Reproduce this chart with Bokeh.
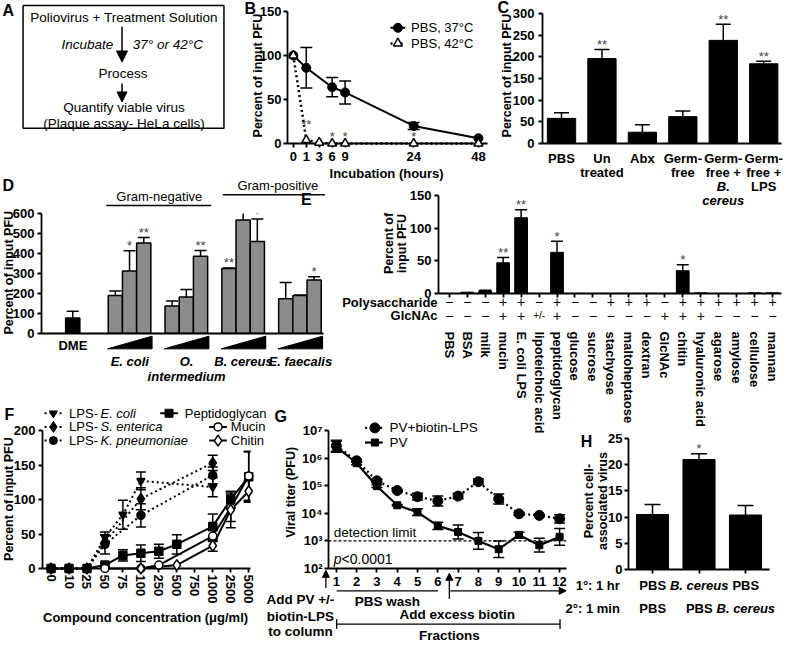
import math
from bokeh.plotting import figure
from bokeh.models import (Range1d, FixedTicker, Label, Arrow, NormalHead, TeeHead,
                          Whisker, ColumnDataSource, GridBox, Span)
from bokeh.embed import file_html
from bokeh.resources import INLINE

W, H = 784, 645
SX, SY = W / 800.0, H / 661.0
FONT = "Liberation Sans"

# ---------------- data ----------------
a_steps = ["Poliovirus + Treatment Solution", "Process", "Quantify viable virus", "(Plaque assay- HeLa cells)"]

# panel B: the time axis is drawn with uneven spacing (as in the original axis)
b_hour_ticks = [0, 1, 3, 6, 9, 24, 48]
b_hour_axis_pos = [0, 1, 2, 3, 4, 9.3, 14.3]
b_hours_37 = [0, 1, 6, 9, 24, 48]
b_pct_37 = [100, 86, 64, 58, 20, 6]
b_sem_37 = [0, 23, 11, 13, 4, 0]
b_hours_42 = [0, 1, 3, 6, 9, 24, 48]
b_pct_42 = [100, 4, 1, 0, 0, 0, 0]
b_star_hours = [1, 6, 9, 24]
b_star_marks = ["**", "*", "*", "*"]

c_label_lines = [["PBS"], ["Un", "treated"], ["Abx"], ["Germ-", "free"],
                 ["Germ-", "free +", "B.", "cereus"], ["Germ-", "free +", "LPS"]]
c_italic_lines = [[], [], [], [], [2, 3], []]
c_pct = [58, 196, 26, 62, 238, 184]
c_sem = [13, 21, 17, 13, 37, 6]
c_marks = ["", "**", "", "", "**", "**"]

d_dme = [77]
d_dme_sem = [34]
d_species = [["E. coli"], ["O.", "intermedium"], ["B. cereus"], ["E. faecalis"]]
d_pct = [[190, 313, 453], [137, 183, 386], [325, 567, 460], [174, 190, 268]]
d_sem = [[22, 101, 27], [26, 37, 29], [3, 57, 112], [81, 2, 16]]
d_marks = [["", "*", "**"], ["", "", "**"], ["**", "**", "*"], ["", "", "*"]]

e_compounds = ["PBS", "BSA", "milk", "mucin", "E. coli LPS", "lipoteichoic acid", "peptidoglycan",
               "glucose", "sucrose", "stachyose", "maltoheptaose", "dextran", "GlcNAc", "chitin",
               "hyaluronic acid", "agarose", "amylose", "cellulose", "mannan"]
e_pct = [0, 2, 4, 47, 116, 0, 63, 0, 0, 0, 0, 0, 0, 35, 1, 0, 0, 1, 1]
e_sem = [0, 0, 1, 8, 12, 0, 17, 0, 0, 0, 0, 0, 0, 9, 0, 0, 0, 0, 0]
e_marks = ["", "", "", "**", "**", "", "*", "", "", "", "", "", "", "*", "", "", "", "", ""]
e_poly = ["−", "−", "−", "+", "+", "−", "+", "−", "−", "+", "+", "+", "−", "+", "+", "+", "+", "+", "+"]
e_glcnac = ["−", "−", "−", "+", "+", "+/-", "+", "−", "−", "−", "−", "−", "+", "+", "+", "−", "−", "−", "−"]

f_conc = ["0", "10", "25", "50", "75", "100", "250", "500", "750", "1000", "2500", "5000"]
f_ecoli_idx = [0, 1, 2, 3, 4, 5, 9]
f_ecoli = [0, 0, 0, 45, 78, 127, 118]
f_ecoli_sem = [0, 0, 0, 8, 21, 13, 14]
f_sent_idx = [0, 1, 2, 3, 5, 9]
f_sent = [0, 0, 0, 38, 101, 153]
f_sent_sem = [0, 0, 0, 0, 16, 11]
f_kpn_idx = [0, 1, 2, 3, 5, 9]
f_kpn = [0, 0, 0, 35, 77, 135]
f_kpn_sem = [0, 0, 0, 14, 17, 12]
f_pep_idx = [0, 1, 2, 3, 4, 5, 6, 7, 9, 10, 11]
f_pep = [0, 0, 0, 5, 19, 22, 25, 35, 61, 100, 133]
f_pep_sem = [0, 0, 0, 2, 8, 12, 10, 14, 18, 12, 37]
f_muc_idx = [3, 5, 6, 9, 10, 11]
f_muc = [0, 0, 5, 47, 88, 134]
f_muc_sem = [0, 0, 0, 8, 20, 35]
f_chi_idx = [5, 7, 9, 10, 11]
f_chi = [0, 5, 33, 85, 112]
f_chi_sem = [0, 0, 8, 26, 15]

g_frac = [1, 2, 3, 4, 5, 6, 7, 8, 9, 10, 11, 12]
g_lps = [2.8e6, 8e5, 1.5e5, 6.7e4, 4e4, 2.8e4, 4.2e4, 1.4e5, 3.3e4, 9.6e3, 8.4e3, 6.3e3]
g_lps_err = [0.2, 0.05, 0.06, 0.03, 0.12, 0.18, 0.1, 0.1, 0.18, 0.05, 0.03, 0.15]
g_pv = [2.6e6, 6.5e5, 9.6e4, 1.95e4, 1.1e4, 3.5e3, 2.1e3, 1.0e3, 5e2, 1.65e3, 7e2, 1.4e3]
g_pv_err = [0.2, 0.05, 0.05, 0.03, 0.12, 0.13, 0.25, 0.3, 0.3, 0.1, 0.25, 0.3]
g_detection_limit = 1e3
g_decades = [1e2, 1e3, 1e4, 1e5, 1e6, 1e7]
g_decade_labels = ["10²", "10³", "10⁴", "10⁵", "10⁶", "10⁷"]

h_primary = ["PBS", "B. cereus", "PBS"]
h_secondary = ["PBS", "PBS", "B. cereus"]
h_pct = [10.5, 21, 10.4]
h_sem = [1.9, 1.1, 1.8]
h_marks = ["", "*", ""]


# ---------------- helpers ----------------
def lin(v, d0, d1, r0, r1):
    return r0 + (v - d0) * (r1 - r0) / (d1 - d0)


def style_axis(ax):
    ax.axis_line_width = 1.8
    ax.axis_line_color = "black"
    ax.major_tick_line_width = 1.8
    ax.major_tick_line_color = "black"
    ax.major_tick_in = 0
    ax.major_tick_out = 4
    ax.minor_tick_line_color = None
    ax.major_label_text_font = FONT
    ax.major_label_text_font_style = "bold"
    ax.major_label_text_font_size = "13px"
    ax.major_label_text_color = "black"
    ax.major_label_standoff = 3


def finish(p):
    p.border_fill_color = None
    p.background_fill_color = None
    p.outline_line_color = None
    p.xgrid.visible = False
    p.ygrid.visible = False
    p.frame_align = False
    return p


def make_panel(frame, xr, yr, y_log=False):
    fx0, fy0, fx1, fy1 = frame
    left = int(round(fx0 * SX))
    right = W - int(round(fx1 * SX))
    top = int(round(fy0 * SY))
    bottom = H - int(round(fy1 * SY))
    kw = {}
    if y_log:
        kw["y_axis_type"] = "log"
    p = figure(width=W, height=H, x_range=Range1d(*xr), y_range=Range1d(*yr),
               output_backend="svg", toolbar_location=None, title=None,
               min_border_left=left, min_border_right=right,
               min_border_top=top, min_border_bottom=bottom, **kw)
    finish(p)
    for ax in p.xaxis + p.yaxis:
        style_axis(ax)
    return p


def errbars(p, xs, lo, hi, width=10, lower=True, lw=1.5):
    src = ColumnDataSource(dict(base=list(xs), lower=list(lo), upper=list(hi)))
    w = Whisker(source=src, base="base", lower="lower", upper="upper",
                line_width=lw, line_color="black",
                upper_head=TeeHead(size=width, line_width=lw, line_color="black"),
                lower_head=TeeHead(size=width, line_width=lw, line_color="black") if lower else None,
                level="annotation")
    p.add_layout(w)


def star(p, x, y, s, dy=4, size="13px"):
    if s:
        p.add_layout(Label(x=x, y=y, text=s, text_font=FONT, text_font_size=size,
                           text_align="center", text_baseline="middle", y_offset=dy))


def txt(p, x, y, s, size="13px", style="bold", align="center", baseline="middle", angle=0.0):
    p.add_layout(Label(x=x, y=y, text=s, text_font=FONT, text_font_size=size,
                       text_font_style=style, text_align=align, text_baseline=baseline,
                       angle=angle, text_color="black"))


def nz(xs, vs, es):
    out = [(x, v, e) for x, v, e in zip(xs, vs, es) if e > 0]
    return [o[0] for o in out], [o[1] - o[2] for o in out], [o[1] + o[2] for o in out]


def over(r):
    r.level = "overlay"
    return r


# ---------------- overlay (free text, decorations) ----------------
ov = figure(width=W, height=H, x_range=Range1d(0, 800), y_range=Range1d(661, 0),
            output_backend="svg", toolbar_location=None, title=None,
            x_axis_location=None, y_axis_location=None,
            min_border_left=0, min_border_right=0, min_border_top=0, min_border_bottom=0)
finish(ov)

# panel letters
for letter, lx, ly in [("A", 8, 10), ("B", 255, 8), ("C", 513, 7), ("D", 8, 190),
                       ("E", 312, 204), ("F", 9, 424), ("G", 286, 426), ("H", 598, 452)]:
    txt(ov, lx, ly, letter, size="16px")

# ---- panel A ----
ov.line([23, 228, 228, 23, 23], [5, 5, 131, 131, 5], line_width=1.5, color="black")
txt(ov, 126, 17, a_steps[0], size="13.5px", style="normal")
txt(ov, 115, 45, "Incubate", size="13.5px", style="italic", align="right")
txt(ov, 135, 45, "37° or 42°C", size="13.5px", style="italic", align="left")
txt(ov, 125, 75, a_steps[1], size="13.5px", style="normal")
txt(ov, 126, 110, a_steps[2], size="13.5px", style="normal")
txt(ov, 126, 126, a_steps[3], size="13.5px", style="normal")
ov.add_layout(Arrow(end=NormalHead(size=11, fill_color="black", line_color="black"),
                    x_start=124, y_start=27, x_end=124, y_end=63, line_width=1.5))
ov.add_layout(Arrow(end=NormalHead(size=10, fill_color="black", line_color="black"),
                    x_start=124, y_start=85, x_end=124, y_end=104, line_width=1.5))

# ---- panel B ----
hour_pos = dict(zip(b_hour_ticks, b_hour_axis_pos))
pB = make_panel((293, 11, 497, 147), (-0.45, 15.0), (0, 150))
pB.xaxis.ticker = FixedTicker(ticks=b_hour_axis_pos)
pB.xaxis.major_label_overrides = {p_: str(h_) for h_, p_ in zip(b_hour_ticks, b_hour_axis_pos)}
pB.yaxis.ticker = FixedTicker(ticks=[0, 50, 100, 150])
pB.xaxis.major_label_standoff = 4
pB.yaxis.major_label_standoff = 2
bx37 = [hour_pos[h_] for h_ in b_hours_37]
bx42 = [hour_pos[h_] for h_ in b_hours_42]
bx, blo, bhi = nz(bx37, b_pct_37, b_sem_37)
errbars(pB, bx, blo, bhi, width=12)
over(pB.line(bx42, b_pct_42, line_dash="2 3", line_width=2.5, color="black"))
over(pB.line(bx37, b_pct_37, line_width=2, color="black"))
over(pB.scatter(bx37, b_pct_37, marker="circle", size=9, color="black"))
over(pB.scatter(bx42, b_pct_42, marker="triangle", size=9, fill_color="white",
                line_color="black", line_width=1.5))
for hh, mk in zip(b_star_hours, b_star_marks):
    star(pB, hour_pos[hh], 0, mk, dy=19 if mk == "**" else 7)
txt(ov, 263, 77, "Percent of input PFU", size="12.5px", angle=math.pi / 2)
txt(ov, 394, 177, "Incubation (hours)", size="13px")
# legend B
ov.line([398, 413], [28, 28], line_width=2, color="black")
ov.scatter([405.5], [28], marker="circle", size=9, color="black")
ov.line([398, 413], [44, 44], line_width=2.5, color="black", line_dash="2 3")
ov.scatter([405.5], [44], marker="triangle", size=9, fill_color="white", line_color="black", line_width=1.5)
txt(ov, 419, 28, "PBS, 37°C", size="13px", style="normal", align="left")
txt(ov, 419, 44, "PBS, 42°C", size="13px", style="normal", align="left")

# ---- panel C ----
cfr = (553, 13, 797, 147)
cxr = (-0.47, 5.44)
pC = make_panel(cfr, cxr, (0, 300))
pC.xaxis.ticker = FixedTicker(ticks=[])
pC.yaxis.ticker = FixedTicker(ticks=list(range(0, 301, 50)))
pC.yaxis.major_label_standoff = 4
cxs = list(range(len(c_pct)))
pC.vbar(x=cxs, top=c_pct, width=0.7, color="black")
errbars(pC, cxs, c_pct, [v + e for v, e in zip(c_pct, c_sem)], width=15, lower=False)
for i in cxs:
    star(pC, i, c_pct[i] + c_sem[i], c_marks[i], dy=5)
    cx = lin(i, cxr[0], cxr[1], cfr[0], cfr[2])
    for k, line in enumerate(c_label_lines[i]):
        style = "bold italic" if k in c_italic_lines[i] else "bold"
        txt(ov, cx, 162 + 14.3 * k, line, size="13px", style=style)
txt(ov, 517, 77, "Percent of input PFU", size="12.5px", angle=math.pi / 2)

# ---- panel D ----
dfr = (42, 218, 330, 341)
dxr = (-2.2, 17.66)
pD = make_panel(dfr, dxr, (0, 600))
pD.xaxis.ticker = FixedTicker(ticks=[])
pD.yaxis.ticker = FixedTicker(ticks=list(range(0, 601, 100)))
pD.yaxis.major_label_standoff = 3
pD.vbar(x=[0], top=d_dme, width=1, fill_color="black", line_color="black", line_width=1.5)
errbars(pD, [0], d_dme, [d_dme[0] + d_dme_sem[0]], width=12, lower=False)
txt(ov, lin(0, dxr[0], dxr[1], dfr[0], dfr[2]), 354, "DME", size="13px")
for g in range(4):
    slots = [4 * g + 3, 4 * g + 4, 4 * g + 5]
    pD.vbar(x=slots, top=d_pct[g], width=1, fill_color="#8c8c8c", line_color="black", line_width=1.5)
    errbars(pD, slots, d_pct[g], [v + e for v, e in zip(d_pct[g], d_sem[g])], width=12, lower=False)
    for s, v, e, mk in zip(slots, d_pct[g], d_sem[g], d_marks[g]):
        star(pD, s, v + e, mk, dy=5)
    xl = lin(slots[0] - 0.5, dxr[0], dxr[1], dfr[0], dfr[2]) - 1
    xr_ = lin(slots[2] + 0.5, dxr[0], dxr[1], dfr[0], dfr[2]) + 1
    ov.patch([xl, xr_, xr_], [357, 357, 344], color="black")
    xc = lin(slots[1], dxr[0], dxr[1], dfr[0], dfr[2])
    for k, line in enumerate(d_species[g]):
        txt(ov, xc, 370 + 15 * k, line, size="13px", style="bold italic")
ov.line([108, 215], [210, 210], line_width=1.5, color="black")
txt(ov, 162, 201, "Gram-negative", size="13px", style="normal")
ov.line([227, 331], [199, 199], line_width=1.5, color="black")
txt(ov, 283, 190, "Gram-positive", size="13px", style="normal")
txt(ov, 9, 279, "Percent of input PFU", size="12.5px", angle=math.pi / 2)

# ---- panel E ----
efr = (447, 200, 797, 300)
exr = (-0.6, 18.5)
pE = make_panel(efr, exr, (0, 150))
exs = list(range(len(e_compounds)))
pE.xaxis.ticker = FixedTicker(ticks=exs)
pE.xaxis.major_label_overrides = {i: n for i, n in zip(exs, e_compounds)}
pE.xaxis.major_label_orientation = "vertical"
pE.xaxis.major_label_standoff = 34
pE.yaxis.ticker = FixedTicker(ticks=[0, 50, 100, 150])
pE.vbar(x=exs, top=e_pct, width=0.71, color="black")
ex, elo, ehi = nz(exs, e_pct, e_sem)
errbars(pE, ex, [e_pct[i] for i in ex], ehi, width=12, lower=False)
for i in exs:
    star(pE, i, e_pct[i] + e_sem[i], e_marks[i], dy=5)
    xc = lin(i, exr[0], exr[1], efr[0], efr[2])
    txt(ov, xc, 309, e_poly[i], size="14px" if e_poly[i] != "+/-" else "10px", style="normal")
    txt(ov, xc, 323, e_glcnac[i], size="14px" if e_glcnac[i] != "+/-" else "10px", style="normal")
txt(ov, 446, 309, "Polysaccharide", size="13px", align="right")
txt(ov, 446, 323, "GlcNAc", size="13px", align="right")
txt(ov, 396, 249, "Percent of", size="12.5px", angle=math.pi / 2)
txt(ov, 410, 249, "input PFU", size="12.5px", angle=math.pi / 2)

# ---- panel F ----
ffr = (43, 441, 255, 582)
fxr = (-0.475, 11.1)
pF = make_panel(ffr, fxr, (0, 200))
pF.xaxis.ticker = FixedTicker(ticks=list(range(len(f_conc))))
pF.xaxis.major_label_overrides = {i: c for i, c in enumerate(f_conc)}
pF.xaxis.major_label_orientation = "vertical"
pF.xaxis.major_label_standoff = 2
pF.yaxis.ticker = FixedTicker(ticks=[0, 50, 100, 150, 200])
f_series = [
    (f_ecoli_idx, f_ecoli, f_ecoli_sem, "inverted_triangle", "black", "2 3"),
    (f_sent_idx, f_sent, f_sent_sem, "diamond", "black", "2 3"),
    (f_kpn_idx, f_kpn, f_kpn_sem, "circle", "black", "2 3"),
    (f_pep_idx, f_pep, f_pep_sem, "square", "black", "solid"),
    (f_muc_idx, f_muc, f_muc_sem, "circle", "white", "solid"),
    (f_chi_idx, f_chi, f_chi_sem, "diamond", "white", "solid"),
]
for idx, vals, sems, mk, fc, dash in f_series:
    x_, lo_, hi_ = nz(idx, vals, sems)
    errbars(pF, x_, lo_, hi_, width=10)
for idx, vals, sems, mk, fc, dash in f_series:
    over(pF.line(idx, vals, line_width=2, color="black", line_dash=dash))
for idx, vals, sems, mk, fc, dash in f_series:
    sz = 11 if mk == "diamond" else 8
    over(pF.scatter(idx, vals, marker=mk, size=sz, fill_color=fc, line_color="black", line_width=1.5))
txt(ov, 9, 511, "Percent of input PFU", size="12.5px", angle=math.pi / 2)
txt(ov, 148, 632, "Compound concentration (μg/ml)", size="13px")
# legend F
leg_left = [("inverted_triangle", "LPS- ", "E. coli", 423), ("diamond", "LPS- ", "S. enterica", 437),
            ("circle", "LPS- ", "K. pneumoniae", 451)]
for mk, pre, sp, ly in leg_left:
    ov.line([45, 63], [ly, ly], line_width=2, color="black", line_dash="2 3")
    ov.scatter([54], [ly], marker=mk, size=11 if mk == "diamond" else 8, color="black")
    txt(ov, 70, ly, pre, size="13px", style="normal", align="left")
    txt(ov, 102, ly, sp, size="13px", style="italic", align="left")
ov.line([163, 181], [423, 423], line_width=2, color="black")
ov.scatter([172], [423], marker="square", size=8, color="black")
txt(ov, 188, 423, "Peptidoglycan", size="13px", style="normal", align="left")
ov.line([213, 231], [437, 437], line_width=2, color="black")
ov.scatter([222], [437], marker="circle", size=8, fill_color="white", line_color="black", line_width=1.5)
txt(ov, 235, 437, "Mucin", size="13px", style="normal", align="left")
ov.line([213, 231], [451, 451], line_width=2, color="black")
ov.scatter([222], [451], marker="diamond", size=11, fill_color="white", line_color="black", line_width=1.5)
txt(ov, 235, 451, "Chitin", size="13px", style="normal", align="left")

# ---- panel G ----
gfr = (335, 441, 578, 582)
gxr = (0.614, 12.34)
pG = make_panel(gfr, gxr, (1e2, 1e7), y_log=True)
pG.xaxis.ticker = FixedTicker(ticks=g_frac)
pG.xaxis.major_label_standoff = 4
pG.yaxis.ticker = FixedTicker(ticks=g_decades)
pG.yaxis.major_label_overrides = {d: l for d, l in zip(g_decades, g_decade_labels)}
pG.yaxis.major_label_standoff = 2
pG.add_layout(Span(location=g_detection_limit, dimension="width", line_dash="3 2",
                   line_width=1.3, line_color="black"))
errbars(pG, g_frac, [v / 10 ** e for v, e in zip(g_lps, g_lps_err)],
        [v * 10 ** e for v, e in zip(g_lps, g_lps_err)], width=11)
errbars(pG, g_frac, [v / 10 ** e for v, e in zip(g_pv, g_pv_err)],
        [v * 10 ** e for v, e in zip(g_pv, g_pv_err)], width=11)
over(pG.line(g_frac, g_lps, line_width=2.2, color="black", line_dash="2 3"))
over(pG.line(g_frac, g_pv, line_width=2.2, color="black"))
over(pG.scatter(g_frac, g_lps, marker="circle", size=10, color="black"))
over(pG.scatter(g_frac, g_pv, marker="square", size=7, color="black"))
txt(ov, 340, 545, "detection limit", size="13.5px", style="normal", align="left")
txt(ov, 340, 572, "p", size="14px", style="italic", align="left")
txt(ov, 348, 572, "<0.0001", size="14px", style="normal", align="left")
txt(ov, 296, 504, "Viral titer (PFU)", size="12.5px", angle=math.pi / 2)
ov.line([372, 390], [438, 438], line_width=2.2, color="black", line_dash="2 3")
ov.scatter([382], [438], marker="circle", size=10, color="black")
ov.line([372, 390], [453, 453], line_width=2.2, color="black")
ov.scatter([382], [453], marker="square", size=7, color="black")
txt(ov, 397, 438, "PV+biotin-LPS", size="13.5px", style="normal", align="left")
txt(ov, 397, 453, "PV", size="13.5px", style="normal", align="left")
gx = lambda f: lin(f, gxr[0], gxr[1], gfr[0], gfr[2])
ov.add_layout(Arrow(end=NormalHead(size=7, fill_color="black", line_color="black"),
                    x_start=332, y_start=602, x_end=332, y_end=584, line_width=1.3))
ov.add_layout(Arrow(end=NormalHead(size=7, fill_color="black", line_color="black"),
                    x_start=gx(6.55), y_start=613, x_end=gx(6.55), y_end=587, line_width=1.3))
ov.line([gx(1), gx(6)], [605, 605], line_width=1.3, color="black")
ov.add_layout(Arrow(end=NormalHead(size=7, fill_color="black", line_color="black"),
                    x_start=gx(6.6), y_start=605, x_end=gx(12.3), y_end=605, line_width=1.3))
ov.line([gx(1), gx(12)], [639, 639], line_width=1.3, color="black")
ov.line([gx(1), gx(1)], [634, 644], line_width=1.3, color="black")
ov.line([gx(12), gx(12)], [634, 644], line_width=1.3, color="black")
txt(ov, (gx(1) + gx(6)) / 2, 616, "PBS wash", size="13.5px")
txt(ov, 466, 629, "Add excess biotin", size="13.5px")
txt(ov, 458, 651, "Fractions", size="13.5px")
txt(ov, 306, 614, "Add PV +/-", size="13.5px")
txt(ov, 306, 631, "biotin-LPS", size="13.5px")
txt(ov, 306, 647, "to column", size="13.5px")

# ---- panel H ----
hfr = (641, 449, 785, 583)
hxr = (-0.516, 2.516)
pH = make_panel(hfr, hxr, (0, 25))
hxs = list(range(len(h_pct)))
pH.xaxis.ticker = FixedTicker(ticks=hxs)
pH.xaxis.major_label_overrides = {i: "" for i in hxs}
pH.yaxis.ticker = FixedTicker(ticks=[0, 5, 10, 15, 20, 25])
pH.yaxis.major_label_standoff = 2
pH.vbar(x=hxs, top=h_pct, width=0.69, color="black")
errbars(pH, hxs, h_pct, [v + e for v, e in zip(h_pct, h_sem)], width=16, lower=False)
for i in hxs:
    star(pH, i, h_pct[i] + h_sem[i], h_marks[i], dy=5)
    xc = lin(i, hxr[0], hxr[1], hfr[0], hfr[2])
    txt(ov, xc, 600, h_primary[i], size="13px", style="bold italic" if "cereus" in h_primary[i] else "bold")
    txt(ov, xc, 623, h_secondary[i], size="13px", style="bold italic" if "cereus" in h_secondary[i] else "bold")
txt(ov, 632, 600, "1°: 1 hr", size="13px", align="right")
txt(ov, 632, 623, "2°: 1 min", size="13px", align="right")
txt(ov, 601, 513, "Percent cell-", size="12.5px", angle=math.pi / 2)
txt(ov, 615, 513, "associated virus", size="12.5px", angle=math.pi / 2)

figs = [pB, pC, pD, pE, pF, pG, pH, ov]
grid = GridBox(children=[(f, 0, 0) for f in figs])
open("out.html", "w").write(file_html(grid, INLINE, title="Poliovirus figure"))
